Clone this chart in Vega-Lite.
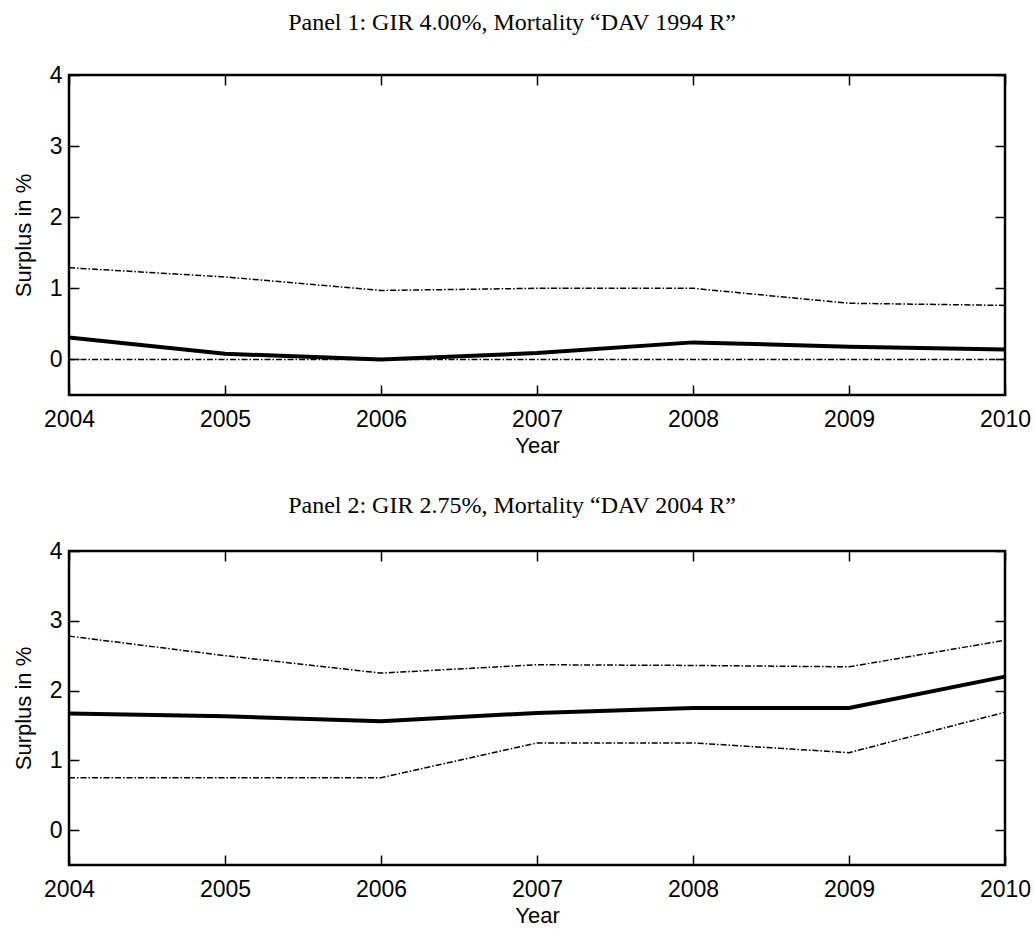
{
  "$schema": "https://vega.github.io/schema/vega-lite/v6.json",
  "padding": {"left": 10, "top": 9, "right": 5, "bottom": 0},
  "background": "white",
  "spacing": 34,
  "datasets": {
    "p1": [
      {"year": 2004, "s": "mean", "v": 0.31}, {"year": 2005, "s": "mean", "v": 0.08}, {"year": 2006, "s": "mean", "v": 0.0},
      {"year": 2007, "s": "mean", "v": 0.09}, {"year": 2008, "s": "mean", "v": 0.24}, {"year": 2009, "s": "mean", "v": 0.18}, {"year": 2010, "s": "mean", "v": 0.14},
      {"year": 2004, "s": "upper", "v": 1.29}, {"year": 2005, "s": "upper", "v": 1.16}, {"year": 2006, "s": "upper", "v": 0.97},
      {"year": 2007, "s": "upper", "v": 1.0}, {"year": 2008, "s": "upper", "v": 1.0}, {"year": 2009, "s": "upper", "v": 0.79}, {"year": 2010, "s": "upper", "v": 0.76},
      {"year": 2004, "s": "lower", "v": 0.0}, {"year": 2005, "s": "lower", "v": 0.0}, {"year": 2006, "s": "lower", "v": 0.0},
      {"year": 2007, "s": "lower", "v": 0.0}, {"year": 2008, "s": "lower", "v": 0.0}, {"year": 2009, "s": "lower", "v": 0.0}, {"year": 2010, "s": "lower", "v": 0.0}
    ],
    "p2": [
      {"year": 2004, "s": "mean", "v": 1.67}, {"year": 2005, "s": "mean", "v": 1.63}, {"year": 2006, "s": "mean", "v": 1.56},
      {"year": 2007, "s": "mean", "v": 1.68}, {"year": 2008, "s": "mean", "v": 1.75}, {"year": 2009, "s": "mean", "v": 1.75}, {"year": 2010, "s": "mean", "v": 2.2},
      {"year": 2004, "s": "upper", "v": 2.78}, {"year": 2005, "s": "upper", "v": 2.5}, {"year": 2006, "s": "upper", "v": 2.25},
      {"year": 2007, "s": "upper", "v": 2.37}, {"year": 2008, "s": "upper", "v": 2.36}, {"year": 2009, "s": "upper", "v": 2.34}, {"year": 2010, "s": "upper", "v": 2.72},
      {"year": 2004, "s": "lower", "v": 0.75}, {"year": 2005, "s": "lower", "v": 0.75}, {"year": 2006, "s": "lower", "v": 0.75},
      {"year": 2007, "s": "lower", "v": 1.25}, {"year": 2008, "s": "lower", "v": 1.25}, {"year": 2009, "s": "lower", "v": 1.11}, {"year": 2010, "s": "lower", "v": 1.69}
    ]
  },
  "vconcat": [
    {
      "title": {"text": "Panel 1: GIR 4.00%, Mortality “DAV 1994 R”", "dx": -25, "offset": 29},
      "width": 936,
      "height": 320,
      "data": {"name": "p1"},
      "layer": [
        {
          "transform": [{"filter": "datum.s == 'mean'"}],
          "mark": {"type": "line", "color": "black", "strokeWidth": 4},
          "encoding": {
            "x": {"field": "year", "type": "quantitative", "scale": {"domain": [2004, 2010], "nice": false, "zero": false},
                  "axis": {"orient": "bottom", "title": "Year", "values": [2004, 2005, 2006, 2007, 2008, 2009, 2010], "format": "d", "labelPadding": 23, "labelFlush": false, "titlePadding": 4}},
            "y": {"field": "v", "type": "quantitative", "scale": {"domain": [-0.5, 4], "nice": false, "zero": false},
                  "axis": {"orient": "left", "title": "Surplus in %", "values": [0, 1, 2, 3, 4], "labelPadding": 17, "titlePadding": 14}}
          }
        },
        {
          "transform": [{"filter": "datum.s != 'mean'"}],
          "mark": {"type": "line", "color": "black", "strokeWidth": 1.5, "strokeDash": [6, 2, 1.5, 2]},
          "encoding": {
            "x": {"field": "year", "type": "quantitative", "axis": {"orient": "top", "title": null, "labels": false, "values": [2004, 2005, 2006, 2007, 2008, 2009, 2010]}},
            "y": {"field": "v", "type": "quantitative", "axis": {"orient": "right", "title": null, "labels": false, "values": [0, 1, 2, 3, 4]}},
            "detail": {"field": "s"}
          }
        }
      ],
      "resolve": {"axis": {"x": "independent", "y": "independent"}}
    },
    {
      "title": {"text": "Panel 2: GIR 2.75%, Mortality “DAV 2004 R”", "dx": -25, "offset": 22},
      "width": 936,
      "height": 314,
      "data": {"name": "p2"},
      "layer": [
        {
          "transform": [{"filter": "datum.s == 'mean'"}],
          "mark": {"type": "line", "color": "black", "strokeWidth": 4},
          "encoding": {
            "x": {"field": "year", "type": "quantitative", "scale": {"domain": [2004, 2010], "nice": false, "zero": false},
                  "axis": {"orient": "bottom", "title": "Year", "values": [2004, 2005, 2006, 2007, 2008, 2009, 2010], "format": "d", "labelPadding": 23, "labelFlush": false, "titlePadding": 4}},
            "y": {"field": "v", "type": "quantitative", "scale": {"domain": [-0.5, 4], "nice": false, "zero": false},
                  "axis": {"orient": "left", "title": "Surplus in %", "values": [0, 1, 2, 3, 4], "labelPadding": 17, "titlePadding": 14}}
          }
        },
        {
          "transform": [{"filter": "datum.s != 'mean'"}],
          "mark": {"type": "line", "color": "black", "strokeWidth": 1.5, "strokeDash": [6, 2, 1.5, 2]},
          "encoding": {
            "x": {"field": "year", "type": "quantitative", "axis": {"orient": "top", "title": null, "labels": false, "values": [2004, 2005, 2006, 2007, 2008, 2009, 2010]}},
            "y": {"field": "v", "type": "quantitative", "axis": {"orient": "right", "title": null, "labels": false, "values": [0, 1, 2, 3, 4]}},
            "detail": {"field": "s"}
          }
        }
      ],
      "resolve": {"axis": {"x": "independent", "y": "independent"}}
    }
  ],
  "config": {
    "view": {"stroke": "black", "strokeWidth": 2.5},
    "axis": {
      "grid": false, "domain": false, "ticks": true, "tickSize": -10, "tickWidth": 1.5, "tickColor": "black",
      "labelFont": "Liberation Sans", "labelFontSize": 23, "labelColor": "black",
      "titleFont": "Liberation Sans", "titleFontSize": 22, "titleFontWeight": "normal", "titleColor": "black"
    },
    "title": {"font": "Liberation Serif", "fontSize": 24, "fontWeight": "normal", "color": "black", "anchor": "middle"}
  }
}
